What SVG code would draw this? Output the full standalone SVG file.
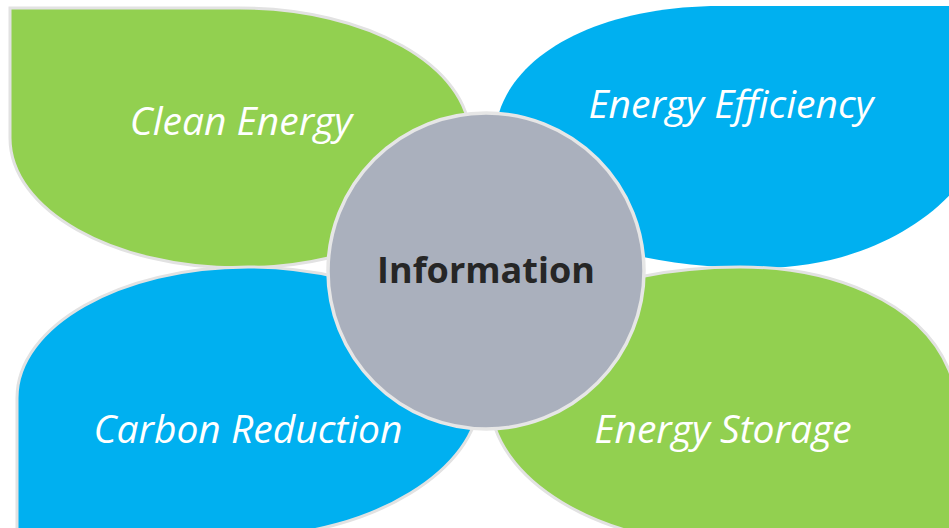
<svg xmlns="http://www.w3.org/2000/svg" width="949" height="528" viewBox="0 0 949 528">
  <style>
    .petal-green { fill: #92d050; stroke: #e2e2e2; stroke-width: 3; }
    .petal-blue { fill: #00b0f0; stroke: #e2e2e2; stroke-width: 3; }
    .petal-blue-ns { fill: #00b0f0; stroke: none; }
    .hub { fill: #aab0bd; stroke: #e6e6e6; stroke-width: 3.5; }
    .label { font-family: "Open Sans", "Liberation Sans", sans-serif; font-style: italic; font-size: 39px; fill: #ffffff; text-anchor: middle; }
    .hub-label { font-family: "Open Sans", "Liberation Sans", sans-serif; font-weight: bold; font-size: 36px; fill: #262626; text-anchor: middle; }
  </style>
  <rect x="0" y="0" width="949" height="528" fill="#ffffff"/>
  <g id="clean-energy">
    <path class="petal-green" d="M10,8 L240,8 C367,8 470,66 470,138 C470,210 367,268 240,268 C113,268 10,210 10,138 Z"/>
    <text class="label" x="241" y="135">Clean Energy</text>
  </g>
  <g id="carbon-reduction">
    <path class="petal-blue" d="M17,536 L17,398 C17,326 120,267 248,267 C376,267 479,326 479,398 C479,468 372,536 250,536 Z"/>
    <text class="label" x="248" y="443">Carbon Reduction</text>
  </g>
  <g id="energy-efficiency">
    <path class="petal-blue-ns" d="M1000,6 L720,6 C590,6 495,62 495,140 C495,215 600,268 760,268 C850,268 930,230 970,170 L1000,6 Z"/>
    <text class="label" x="731" y="118">Energy Efficiency</text>
  </g>
  <g id="energy-storage">
    <path class="petal-green" d="M740,267 C830,267 920,300 949,370 C965,410 975,450 975,545 L730,545 C600,545 492,480 490,400 C490,320 600,267 740,267 Z"/>
    <text class="label" x="723" y="443">Energy Storage</text>
  </g>
  <g id="information">
    <circle class="hub" cx="486" cy="271" r="158"/>
    <text class="hub-label" x="486" y="283">Information</text>
  </g>
  <g id="connectors"/>
</svg>
